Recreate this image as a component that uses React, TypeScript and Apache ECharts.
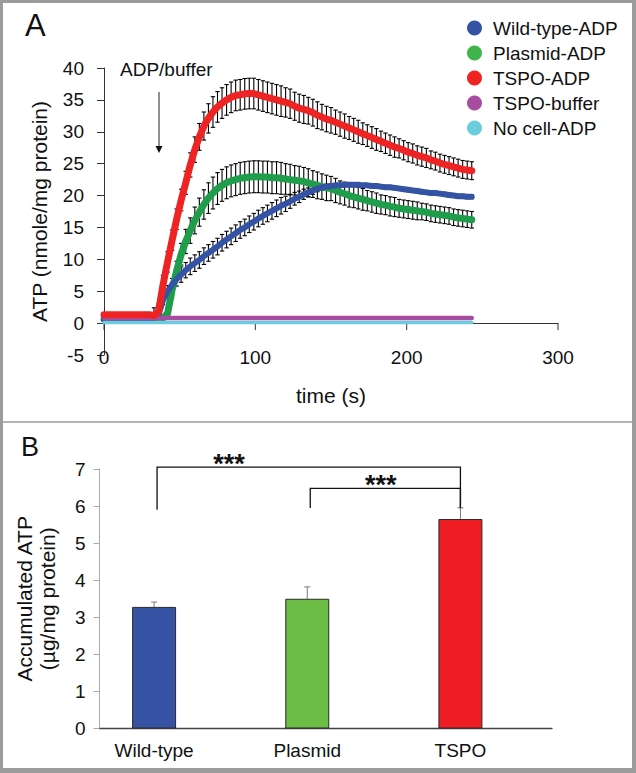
import React, { useEffect, useRef } from "react";
import * as echarts from "echarts";

const FONT = "'Liberation Sans', Arial, sans-serif";

// ---------- Panel A: ATP time course ----------
const timeS = [
  0, 3, 6, 9, 12, 15, 18, 21, 24, 27,
  30, 33, 36, 39, 42, 45, 48, 51, 54, 57,
  60, 63, 66, 69, 72, 75, 78, 81, 84, 87,
  90, 93, 96, 99, 102, 105, 108, 111, 114, 117,
  120, 123, 126, 129, 132, 135, 138, 141, 144, 147,
  150, 153, 156, 159, 162, 165, 168, 171, 174, 177,
  180, 183, 186, 189, 192, 195, 198, 201, 204, 207,
  210, 213, 216, 219, 222, 225, 228, 231, 234, 237,
  240, 243,
];

const wildTypeADP = [
  0.6, 0.6, 0.6, 0.6, 0.6, 0.6, 0.6, 0.6, 0.6, 0.6,
  0.6, 0.7, 1.3, 3.6, 5.0, 6.0, 6.9, 7.6, 8.3, 8.9,
  9.4, 9.9, 10.5, 11.0, 11.5, 12.0, 12.6, 13.1, 13.6, 14.1,
  14.6, 15.0, 15.5, 15.9, 16.4, 16.8, 17.2, 17.6, 18.0, 18.4,
  18.7, 19.1, 19.5, 19.8, 20.2, 20.5, 20.8, 21.1, 21.3, 21.4,
  21.5, 21.6, 21.6, 21.7, 21.7, 21.7, 21.7, 21.6, 21.6, 21.5,
  21.5, 21.4, 21.3, 21.3, 21.2, 21.1, 21.0, 20.9, 20.8, 20.7,
  20.6, 20.5, 20.4, 20.4, 20.3, 20.2, 20.1, 20.0, 19.9, 19.9,
  19.8, 19.8,
];
const wildTypeSem = [
  0.2, 0.2, 0.2, 0.2, 0.2, 0.2, 0.2, 0.2, 0.2, 0.2,
  0.2, 0.2, 0.4, 0.7, 0.9, 1.0, 1.1, 1.2, 1.2, 1.3,
  1.3, 1.3, 1.3, 1.3, 1.3, 1.3, 1.3, 1.3, 1.3, 1.3,
  1.3, 1.3, 1.3, 1.3, 1.3, 1.3, 1.3, 1.3, 1.3, 1.3,
  1.2, 1.1, 1.0, 0.9, 0.8, 0.7, 0.6, 0.5, 0.4, 0.4,
  0.3, 0.3, 0.3, 0.3, 0.3, 0.3, 0.3, 0.3, 0.3, 0.3,
  0.3, 0.3, 0.3, 0.3, 0.3, 0.3, 0.3, 0.3, 0.3, 0.3,
  0.3, 0.3, 0.3, 0.3, 0.3, 0.3, 0.3, 0.3, 0.3, 0.3,
  0.3, 0.3,
];

const plasmidADP = [
  0.6, 0.6, 0.6, 0.6, 0.6, 0.6, 0.6, 0.6, 0.6, 0.6,
  0.6, 0.6, 0.6, 0.8, 1.5, 5.2, 8.2, 10.8, 12.8, 14.5,
  16.1, 17.4, 18.6, 19.6, 20.4, 21.1, 21.6, 22.0, 22.3, 22.5,
  22.7, 22.8, 22.9, 22.95, 22.95, 22.9, 22.9, 22.8, 22.8, 22.7,
  22.6, 22.5, 22.4, 22.3, 22.2, 22.0, 21.8, 21.6, 21.4, 21.2,
  21.1, 20.8, 20.5, 20.3, 20.0, 19.8, 19.6, 19.4, 19.2, 19.0,
  18.8, 18.6, 18.5, 18.3, 18.2, 18.0, 17.9, 17.8, 17.7, 17.6,
  17.5, 17.4, 17.2, 17.1, 17.0, 16.9, 16.8, 16.6, 16.5, 16.4,
  16.3, 16.2,
];
const plasmidSem = [
  0.2, 0.2, 0.2, 0.2, 0.2, 0.2, 0.2, 0.2, 0.2, 0.2,
  0.2, 0.2, 0.2, 0.4, 0.8, 1.2, 1.5, 1.7, 1.9, 2.0,
  2.1, 2.2, 2.3, 2.4, 2.5, 2.5, 2.5, 2.5, 2.5, 2.5,
  2.5, 2.5, 2.5, 2.5, 2.5, 2.5, 2.5, 2.5, 2.5, 2.5,
  2.4, 2.4, 2.3, 2.3, 2.2, 2.2, 2.1, 2.1, 2.0, 2.0,
  1.9, 1.9, 1.8, 1.8, 1.8, 1.7, 1.7, 1.7, 1.6, 1.6,
  1.6, 1.5, 1.5, 1.5, 1.5, 1.4, 1.4, 1.4, 1.4, 1.4,
  1.3, 1.3, 1.3, 1.3, 1.3, 1.3, 1.3, 1.3, 1.3, 1.3,
  1.3, 1.3,
];

const tspoADP = [
  1.3, 1.3, 1.3, 1.3, 1.3, 1.3, 1.3, 1.3, 1.3, 1.3,
  1.3, 1.2, 1.8, 6.0, 9.6, 13.0, 16.3, 19.3, 22.0, 24.8,
  27.2, 29.2, 30.9, 32.1, 33.1, 33.9, 34.5, 35.0, 35.4, 35.7,
  35.8, 35.95, 36.0, 36.0, 35.8, 35.6, 35.4, 35.2, 35.0, 34.8,
  34.6, 34.4, 34.0, 33.7, 33.5, 33.3, 33.0, 32.6, 32.3, 32.0,
  31.8, 31.5, 31.2, 30.9, 30.6, 30.3, 30.0, 29.7, 29.4, 29.1,
  28.8, 28.5, 28.2, 27.9, 27.6, 27.4, 27.1, 26.8, 26.6, 26.3,
  26.1, 25.9, 25.6, 25.4, 25.1, 24.9, 24.7, 24.5, 24.3, 24.1,
  24.0, 23.9,
];
const tspoSem = [
  0.3, 0.3, 0.3, 0.3, 0.3, 0.3, 0.3, 0.3, 0.3, 0.3,
  0.3, 1.2, 1.2, 1.5, 1.6, 1.6, 1.6, 1.7, 1.8, 1.9,
  2.0, 2.1, 2.2, 2.3, 2.4, 2.4, 2.4, 2.4, 2.4, 2.4,
  2.4, 2.4, 2.4, 2.4, 2.4, 2.4, 2.4, 2.4, 2.4, 2.4,
  2.3, 2.3, 2.2, 2.2, 2.2, 2.1, 2.1, 2.1, 2.0, 2.0,
  2.0, 1.9, 1.9, 1.9, 1.8, 1.8, 1.8, 1.7, 1.7, 1.7,
  1.7, 1.6, 1.6, 1.6, 1.6, 1.5, 1.5, 1.5, 1.5, 1.5,
  1.5, 1.5, 1.4, 1.4, 1.4, 1.4, 1.4, 1.4, 1.4, 1.4,
  1.4, 1.4,
];

const controlTimes = [0, 60, 120, 180, 243];
const tspoBuffer = [0.8, 0.8, 0.8, 0.8, 0.8];
const noCellADP = [0.1, 0.1, 0.1, 0.1, 0.1];

const seriesNamesA = ["Wild-type-ADP", "Plasmid-ADP", "TSPO-ADP", "TSPO-buffer", "No cell-ADP"];
const xTicksA = [0, 100, 200, 300];
const yTicksA = [-5, 0, 5, 10, 15, 20, 25, 30, 35, 40];

// ---------- Panel B: accumulated ATP ----------
const groupsB = ["Wild-type", "Plasmid", "TSPO"];
const accumulatedATP = [3.28, 3.5, 5.65];
const accumulatedSem = [0.13, 0.32, 0.3];
// significance brackets: from group, to group, bracket level, leg bottoms, star position
const bracketFrom = [0, 1];
const bracketTo = [2, 2];
const bracketLevel = [7.05, 6.48];
const bracketLegFrom = [5.9, 5.95];
const bracketLegTo = [5.95, 5.95];
const bracketStarPos = [0.49, 1.48];
const bracketLabel = ["***", "***"];

const COLORS = {
  wt: "#3553a5",
  plasmidLine: "#1f9d4b",
  plasmidDot: "#3db54a",
  tspo: "#ee2424",
  buffer: "#a84c9f",
  noCell: "#6ccbdd",
  barBlue: "#3653a3",
  barGreen: "#6bbd45",
  barRed: "#ee1d23",
};

function errRender(params: any, api: any) {
  const x = api.value(0);
  const lo = api.coord([x, api.value(1)]);
  const hi = api.coord([x, api.value(2)]);
  const hw = 2.2;
  const style = { stroke: "#000", lineWidth: 1.1 };
  return {
    type: "group",
    children: [
      { type: "line", shape: { x1: lo[0], y1: lo[1], x2: hi[0], y2: hi[1] }, style },
      { type: "line", shape: { x1: lo[0] - hw, y1: lo[1], x2: lo[0] + hw, y2: lo[1] }, style },
      { type: "line", shape: { x1: hi[0] - hw, y1: hi[1], x2: hi[0] + hw, y2: hi[1] }, style },
    ],
  };
}

function errSeries(name: string, vals: number[], sem: number[]) {
  return {
    type: "custom",
    name: name + "-err",
    xAxisIndex: 0,
    yAxisIndex: 0,
    z: 2,
    silent: true,
    renderItem: errRender,
    encode: { x: 0, y: [1, 2] },
    data: timeS.map((t, i) => [t, vals[i] - sem[i], vals[i] + sem[i]]),
  };
}

function lineSeries(name: string, times: number[], vals: number[], color: string, width: number, z: number, dot?: string) {
  return {
    type: "line",
    name,
    xAxisIndex: 0,
    yAxisIndex: 0,
    showSymbol: false,
    symbol: "circle",
    z,
    lineStyle: { color, width, cap: "round", join: "round" },
    itemStyle: { color: dot || color },
    data: times.map((t, i) => [t, vals[i]]),
  };
}

export default function App() {
  const ref = useRef<HTMLDivElement>(null);

  useEffect(() => {
    if (!ref.current) return;
    const chart = echarts.init(ref.current, null, { renderer: "svg" });

    const axisText = { fontFamily: FONT, color: "#111", fontSize: 19 };

    const option: any = {
      animation: false,
      backgroundColor: "#fff",
      textStyle: { fontFamily: FONT },
      grid: [
        { left: 104, right: 78, top: 68, height: 287 },
        { left: 77.5, right: 99, top: 469, height: 259.5 },
        { left: 99.5, right: 84, top: 469, height: 259.5 },
      ],
      legend: {
        orient: "vertical",
        left: 462,
        top: 13,
        icon: "circle",
        itemWidth: 15,
        itemHeight: 15,
        itemGap: 5,
        data: seriesNamesA,
        textStyle: { fontFamily: FONT, fontSize: 19, color: "#111", lineHeight: 20, padding: [0, 0, 0, 6] },
      },
      xAxis: [
        {
          gridIndex: 0,
          type: "value",
          min: 0,
          max: 300,
          interval: 100,
          axisLine: { show: true, onZero: true, lineStyle: { color: "#333", width: 1 } },
          axisTick: { show: false },
          axisLabel: { ...axisText, margin: -7, customValues: xTicksA },
          splitLine: { show: false },
          name: "time (s)",
          nameLocation: "middle",
          nameGap: 30,
          nameTextStyle: { fontFamily: FONT, fontSize: 21, color: "#111" },
        },
        {
          gridIndex: 1,
          type: "category",
          data: groupsB,
          axisLine: { show: false },
          axisTick: { show: false },
          axisLabel: { ...axisText, margin: 12 },
        },
        {
          gridIndex: 2,
          type: "value",
          min: 0,
          max: 1,
          axisLine: { show: true, lineStyle: { color: "#444", width: 1.3 } },
          axisTick: { show: false },
          axisLabel: { show: false },
          splitLine: { show: false },
        },
      ],
      yAxis: [
        {
          gridIndex: 0,
          type: "value",
          min: -5,
          max: 40,
          interval: 5,
          axisLine: { show: true, lineStyle: { color: "#333", width: 1 } },
          axisTick: { show: true, length: 7, lineStyle: { color: "#333" } },
          axisLabel: { ...axisText, margin: 20, customValues: yTicksA },
          splitLine: { show: false },
          name: "ATP (nmole/mg protein)",
          nameLocation: "middle",
          nameGap: 54,
          nameTextStyle: { fontFamily: FONT, fontSize: 21, color: "#111" },
        },
        { gridIndex: 1, type: "value", min: 0, max: 7, show: false },
        {
          gridIndex: 2,
          type: "value",
          min: 0,
          max: 7,
          interval: 1,
          axisLine: { show: true, lineStyle: { color: "#aaa", width: 1 } },
          axisTick: { show: true, length: 6, lineStyle: { color: "#aaa" } },
          axisLabel: { ...axisText, margin: 14 },
          splitLine: { show: false },
          name: "Accumulated ATP\n(µg/mg protein)",
          nameLocation: "middle",
          nameGap: 41,
          nameTextStyle: { fontFamily: FONT, fontSize: 21, color: "#111", lineHeight: 23 },
        },
      ],
      series: [
        {
          // x-axis ticks hanging from the zero line
          type: "custom",
          name: "x-ticks",
          xAxisIndex: 0,
          yAxisIndex: 0,
          z: 1,
          silent: true,
          encode: { x: 0, y: 1 },
          data: xTicksA.map((t) => [t, 0]),
          renderItem: (params: any, api: any) => {
            const p = api.coord([api.value(0), api.value(1)]);
            return {
              type: "line",
              shape: { x1: p[0], y1: p[1], x2: p[0], y2: p[1] + 7 },
              style: { stroke: "#333", lineWidth: 1 },
            };
          },
        },
        errSeries("Wild-type-ADP", wildTypeADP, wildTypeSem),
        errSeries("Plasmid-ADP", plasmidADP, plasmidSem),
        errSeries("TSPO-ADP", tspoADP, tspoSem),
        lineSeries("Plasmid-ADP", timeS, plasmidADP, COLORS.plasmidLine, 7, 3, COLORS.plasmidDot),
        lineSeries("Wild-type-ADP", timeS, wildTypeADP, COLORS.wt, 6, 4),
        lineSeries("No cell-ADP", controlTimes, noCellADP, COLORS.noCell, 3.5, 5),
        lineSeries("TSPO-buffer", controlTimes, tspoBuffer, COLORS.buffer, 4.5, 6),
        lineSeries("TSPO-ADP", timeS, tspoADP, COLORS.tspo, 7, 7),
        {
          type: "bar",
          name: "Accumulated ATP",
          xAxisIndex: 1,
          yAxisIndex: 1,
          barWidth: 44,
          z: 3,
          data: accumulatedATP.map((v, i) => ({
            value: v,
            itemStyle: {
              color: [COLORS.barBlue, COLORS.barGreen, COLORS.barRed][i],
              borderColor: "#2a2a2a",
              borderWidth: 1,
            },
          })),
        },
        {
          type: "custom",
          name: "bar-err",
          xAxisIndex: 1,
          yAxisIndex: 1,
          z: 2,
          silent: true,
          encode: { x: 0, y: [1, 2] },
          data: accumulatedATP.map((v, i) => [i, v, v + accumulatedSem[i]]),
          renderItem: (params: any, api: any) => {
            const lo = api.coord([api.value(0), api.value(1)]);
            const hi = api.coord([api.value(0), api.value(2)]);
            const style = { stroke: "#777", lineWidth: 1 };
            return {
              type: "group",
              children: [
                { type: "line", shape: { x1: lo[0], y1: lo[1], x2: hi[0], y2: hi[1] }, style },
                { type: "line", shape: { x1: hi[0] - 3, y1: hi[1], x2: hi[0] + 3, y2: hi[1] }, style },
              ],
            };
          },
        },
        {
          type: "custom",
          name: "brackets",
          xAxisIndex: 1,
          yAxisIndex: 1,
          z: 4,
          silent: true,
          encode: { x: [0, 1], y: 2 },
          data: bracketFrom.map((f, i) => [f, bracketTo[i], bracketLevel[i], bracketLegFrom[i], bracketLegTo[i], bracketStarPos[i]]),
          renderItem: (params: any, api: any) => {
            const f = api.value(0);
            const t = api.value(1);
            const a0 = api.coord([f, api.value(3)]);
            const a1 = api.coord([f, api.value(2)]);
            const b1 = api.coord([t, api.value(2)]);
            const b0 = api.coord([t, api.value(4)]);
            const c0 = api.coord([0, 0]);
            const c1 = api.coord([1, 0]);
            const step = c1[0] - c0[0];
            const sx = c0[0] + api.value(5) * step;
            const off = 3;
            return {
              type: "group",
              children: [
                {
                  type: "polyline",
                  shape: { points: [[a0[0] + off, a0[1]], [a1[0] + off, a1[1]], [b1[0], b1[1]], [b0[0], b0[1]]] },
                  style: { stroke: "#111", lineWidth: 1.3, fill: null },
                },
                {
                  type: "text",
                  style: {
                    text: bracketLabel[params.dataIndex],
                    x: sx,
                    y: a1[1] - 3,
                    align: "center",
                    verticalAlign: "middle",
                    fontFamily: FONT,
                    fontSize: 27,
                    fontWeight: "bold",
                    fill: "#111",
                  },
                },
              ],
            };
          },
        },
      ],
      graphic: [
        { type: "rect", shape: { x: 0, y: 0, width: 636, height: 3 }, style: { fill: "#9b9b9b" }, silent: true },
        { type: "rect", shape: { x: 0, y: 0, width: 3, height: 773 }, style: { fill: "#9b9b9b" }, silent: true },
        { type: "rect", shape: { x: 632, y: 0, width: 4, height: 773 }, style: { fill: "#9b9b9b" }, silent: true },
        { type: "rect", shape: { x: 0, y: 768, width: 636, height: 5 }, style: { fill: "#9b9b9b" }, silent: true },
        { type: "line", shape: { x1: 3, y1: 422, x2: 632, y2: 422 }, style: { stroke: "#9b9b9b", lineWidth: 1.5 }, silent: true },
        { type: "text", left: 25, top: 10, style: { text: "A", fontFamily: FONT, fontSize: 31, fill: "#111" } },
        { type: "text", left: 21, top: 433, style: { text: "B", fontFamily: FONT, fontSize: 27, fill: "#111" } },
        { type: "text", left: 120, top: 60, style: { text: "ADP/buffer", fontFamily: FONT, fontSize: 19, fill: "#111" } },
        { type: "line", shape: { x1: 159, y1: 92, x2: 159, y2: 147 }, style: { stroke: "#222", lineWidth: 1 } },
        { type: "polygon", shape: { points: [[155.5, 146], [162.5, 146], [159, 153]] }, style: { fill: "#111" } },
      ],
    };

    chart.setOption(option);
    return () => chart.dispose();
  }, []);

  return (
    <div
      ref={ref}
      style={{ position: "fixed", left: 0, top: 0, width: 636, height: 773, background: "#fff" }}
    />
  );
}
